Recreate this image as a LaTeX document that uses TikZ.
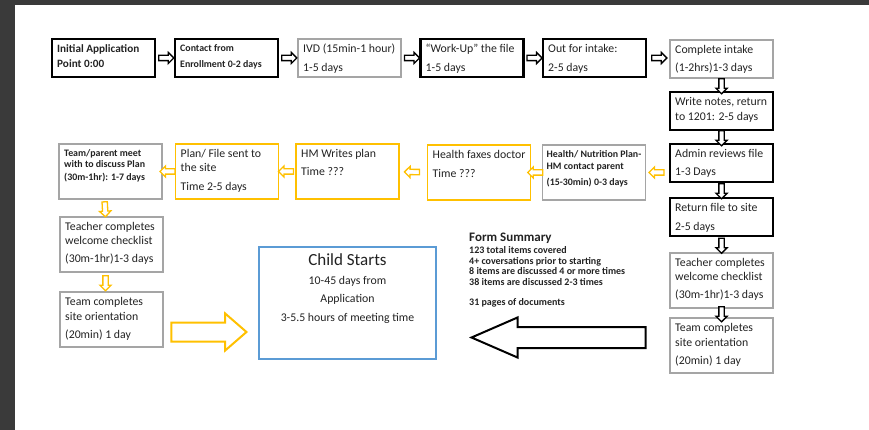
\documentclass[tikz,border=0pt]{standalone}
\usepackage{fontspec}
\setmainfont{Carlito}
\usetikzlibrary{shapes.arrows,calc}
\definecolor{stageyellow}{HTML}{FFC000}
\definecolor{stagegray}{HTML}{A5A5A5}
\definecolor{stageblue}{HTML}{5B9BD5}
\definecolor{framedark}{HTML}{3A3A3A}
\definecolor{inkgray}{HTML}{222222}
\tikzset{
  stage/.style={rectangle, minimum width=103pt, minimum height=38pt, inner sep=0pt, outer sep=0pt, line width=1.8pt},
  blackstage/.style={stage, draw=black, line width=2.2pt},
  graystage/.style={stage, draw=stagegray},
  yellowstage/.style={stage, draw=stageyellow},
  tall/.style={minimum height=55pt},
  stagetext/.style={anchor=north west, align=left, inner sep=0pt, text=inkgray, font=\fontsize{11.8}{15}\selectfont},
  smalltext/.style={stagetext, font=\bfseries\fontsize{9.9}{11.5}\selectfont},
  flow/.style={single arrow, draw, line width=1.3pt, fill=white, minimum height=15pt, inner xsep=0pt, inner ysep=2pt, single arrow head extend=3pt, sloped, allow upside down},
  blackflow/.style={flow, draw=black},
  yellowflow/.style={flow, draw=stageyellow},
  bigflow/.style={single arrow, line width=2pt, inner xsep=0pt, anchor=tip}
}
\begin{document}
\begin{tikzpicture}[x=1pt, y=-1pt]
\useasboundingbox (0,0) rectangle (869,430);
\fill[framedark] (0,0) rectangle (869,5);
\fill[framedark] (0,0) rectangle (15,430);

% top row
\node[blackstage] (ia) at (103.5,58) {};
\node[blackstage] (cf) at (226.5,58) {};
\node[graystage] (ivd) at (349.5,58) {};
\node[blackstage] (wu) at (472,58) {};
\node[blackstage] (ofi) at (594.5,58) {};
\node[graystage] (ci) at (721.5,59) {};
% right column
\node[blackstage] (wn) at (721.5,111) {};
\node[blackstage] (ar) at (721.5,163) {};
\node[blackstage] (rf) at (721.5,217) {};
\node[graystage, tall] (tcr) at (721.5,280.5) {};
\node[graystage, tall] (tmr) at (721.5,345.5) {};
% middle row
\node[graystage, tall] (hn) at (594,172.5) {};
\node[yellowstage, tall] (hf) at (479,172.5) {};
\node[yellowstage, tall] (hm) at (347.5,171.5) {};
\node[yellowstage, tall] (pf) at (227,171.5) {};
\node[graystage, tall] (tp) at (110.5,171.5) {};
% left column
\node[graystage, tall] (tcl) at (111.5,244.5) {};
\node[graystage, tall] (tml) at (111.5,319.5) {};
\node[stage, draw=stageblue, minimum width=177pt, minimum height=112pt] (cs) at (347.5,303) {};

% texts
\node[stagetext, font=\bfseries\fontsize{11.2}{15}\selectfont] (iat) at ([shift={(5,5)}]ia.north west) {Initial Application\\Point 0:00};
\node[smalltext, font=\bfseries\fontsize{9.9}{16}\selectfont] (cft) at ([shift={(5,5)}]cf.north west) {Contact from\\Enrollment 0-2 days};
\node[stagetext] (ivdt) at ([shift={(5,5)}]ivd.north west) {IVD (15min-1 hour)\\[4pt]1-5 days};
\node[stagetext] (wut) at ([shift={(5,5)}]wu.north west) {“Work-Up” the file\\[4pt]1-5 days};
\node[stagetext] (ofit) at ([shift={(5,5)}]ofi.north west) {Out for intake:\\[4pt]2-5 days};
\node[stagetext] (cit) at ([shift={(5,5)}]ci.north west) {Complete intake\\[3pt](1-2hrs)1-3 days};
\node[stagetext] (wnt) at ([shift={(5,5)}]wn.north west) {Write notes, return\\to 1201: 2-5 days};
\node[stagetext] (art) at ([shift={(5,5)}]ar.north west) {Admin reviews file\\[3pt]1-3 Days};
\node[stagetext] (rft) at ([shift={(5,5)}]rf.north west) {Return file to site\\[4pt]2-5 days};
\node[stagetext, font=\fontsize{11.8}{14}\selectfont] (tcrt) at ([shift={(5,5)}]tcr.north west) {Teacher completes\\welcome checklist\\[4pt](30m-1hr)1-3 days};
\node[stagetext] (tmrt) at ([shift={(5,5)}]tmr.north west) {Team completes\\site orientation\\[3pt](20min) 1 day};
\node[smalltext, font=\bfseries\fontsize{9.9}{12}\selectfont] (hnt) at ([shift={(4,5)}]hn.north west) {Health/ Nutrition Plan-\\HM contact parent\\[4pt](15-30min) 0-3 days};
\node[stagetext] (hft) at ([shift={(5,5)}]hf.north west) {Health faxes doctor\\[4pt]Time ???};
\node[stagetext] (hmt) at ([shift={(5,5)}]hm.north west) {HM Writes plan\\[3pt]Time ???};
\node[stagetext, font=\fontsize{11.8}{14}\selectfont] (pft) at ([shift={(5,5)}]pf.north west) {Plan/ File sent to\\the site\\[5pt]Time 2-5 days};
\node[smalltext] (tpt) at ([shift={(5,5)}]tp.north west) {Team/parent meet\\with to discuss Plan\\[1.5pt](30m-1hr): 1-7 days};
\node[stagetext, font=\fontsize{11.8}{14}\selectfont] (tclt) at ([shift={(5,5)}]tcl.north west) {Teacher completes\\welcome checklist\\[4pt](30m-1hr)1-3 days};
\node[stagetext] (tmlt) at ([shift={(5,5)}]tml.north west) {Team completes\\site orientation\\[3pt](20min) 1 day};
\node[anchor=north, align=center, inner sep=0pt, text=inkgray, font=\fontsize{11.8}{18.5}\selectfont] (cst) at ([yshift=-6.5pt]cs.north) {{\fontsize{17}{22}\selectfont Child Starts}\\10-45 days from\\Application\\3-5.5 hours of meeting time};
\node[anchor=north west, align=left, inner sep=0pt, text=inkgray, font=\bfseries\fontsize{10}{10.7}\selectfont] (fs) at (469,233) {{\fontsize{13}{14}\selectfont Form Summary}\\[1pt]123 total items covered\\4+ coversations prior to starting\\8 items are discussed 4 or more times\\38 items are discussed 2-3 times\\[9.5pt]31 pages of documents};

% small arrows
\path (ia) -- node[blackflow] (f1) {} (cf);
\path (cf) -- node[blackflow] (f2) {} (ivd);
\path (ivd) -- node[blackflow] (f3) {} (wu);
\path (wu) -- node[blackflow] (f4) {} (ofi);
\path (ofi.east) -- node[blackflow] (f5) {} (ofi.east -| ci.west);
\path (ci) -- node[blackflow] (f6) {} (wn);
\path (wn) -- node[blackflow] (f7) {} (ar);
\path (ar) -- node[blackflow] (f8) {} (rf);
\path (rf) -- node[blackflow] (f9) {} (tcr);
\path (tcr) -- node[blackflow] (f10) {} (tmr);
\path (ar.west |- hn) -- node[yellowflow] (y1) {} (hn.east);
\path (hn) -- node[yellowflow] (y2) {} (hf);
\path (hf) -- node[yellowflow] (y3) {} (hm);
\path (hm) -- node[yellowflow] (y4) {} (pf);
\path (pf) -- node[yellowflow] (y5) {} (tp);
\path ([xshift=-6pt]tp.south) -- node[yellowflow] (y6) {} ([xshift=-6pt]tcl.north);
\path ([xshift=-6pt]tcl.south) -- node[yellowflow] (y7) {} ([xshift=-6pt]tml.north);

% big arrows
\coordinate (yrow) at (0,332);
\coordinate (brow) at (0,337.5);
\node[bigflow, draw=stageyellow, minimum height=75pt, inner ysep=8.5pt, single arrow head extend=9pt, single arrow tip angle=82] (ya) at ([xshift=-11pt]cs.west |- yrow) {};
\node[bigflow, draw=black, minimum height=174pt, inner ysep=9.5pt, single arrow head extend=9.5pt, single arrow tip angle=47, shape border rotate=180] (ba) at ([xshift=33pt]cs.east |- brow) {};
\end{tikzpicture}
\end{document}
